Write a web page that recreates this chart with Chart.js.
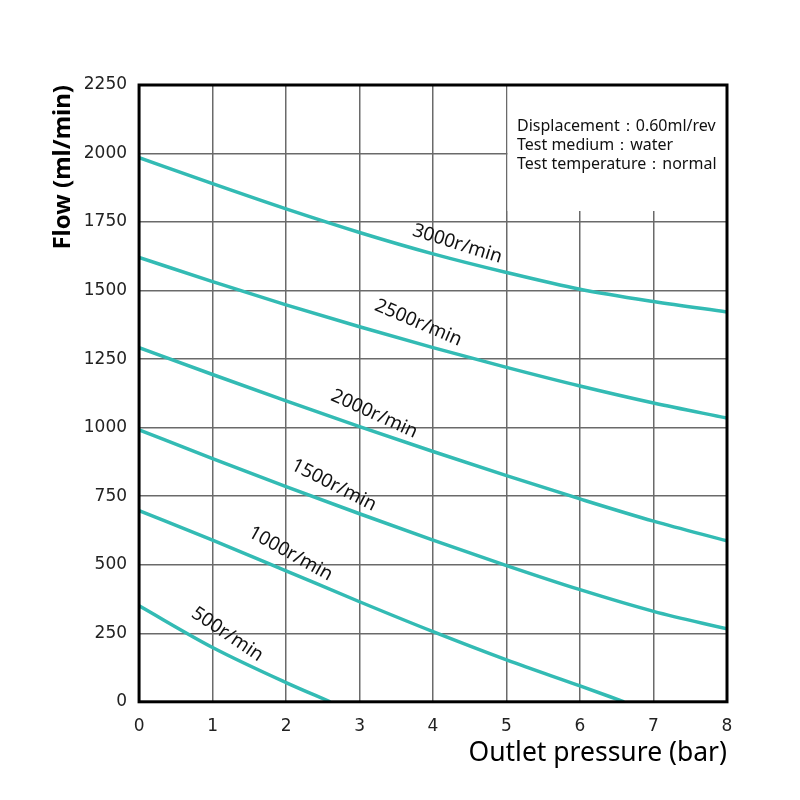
<!DOCTYPE html>
<html>
<head>
<meta charset="utf-8">
<script src="https://cdn.jsdelivr.net/npm/chart.js@4"></script>
<style>
  body { margin: 0; background: #fff; }
  #wrap { width: 800px; height: 800px; }
</style>
</head>
<body>
<div id="wrap"><canvas id="flowChart"></canvas></div>
<script>
// pressure (bar) / flow (ml/min) per speed
const pressure = [0, 1, 2, 3, 4, 5, 6, 7, 8];
const flow3000 = [1985, 1890, 1798, 1712, 1634, 1566, 1505, 1460, 1422];
const flow2500 = [1621, 1533, 1448, 1368, 1292, 1220, 1152, 1090, 1035];
const flow2000 = [1292, 1194, 1098, 1004, 913, 825, 740, 659, 587];
const flow1500 = [992, 887, 785, 686, 590, 497, 409, 330, 266];
const pressure1000 = [0, 1, 2, 3, 4, 5, 6, 6.6];
const flow1000 = [697, 590, 478, 365, 256, 153, 58, 0];
const pressure500 = [0, 1, 2, 2.6];
const flow500 = [350, 198, 70, 0];

const speedLabels = ["3000r/min", "2500r/min", "2000r/min", "1500r/min", "1000r/min", "500r/min"];
const infoLines = ["Displacement：0.60ml/rev", "Test medium：water", "Test temperature：normal"];

const lineColor = "#33bbb4";

function series(xs, ys) {
  return xs.map((x, i) => ({ x: x, y: ys[i] }));
}

const datasets = [
  series(pressure, flow3000),
  series(pressure, flow2500),
  series(pressure, flow2000),
  series(pressure, flow1500),
  series(pressure1000, flow1000),
  series(pressure500, flow500)
].map((d, i) => ({
  label: speedLabels[i],
  data: d,
  borderColor: lineColor,
  borderWidth: 3.5,
  pointRadius: 0,
  fill: false,
  cubicInterpolationMode: "monotone"
}));

// where the speed labels sit (data coords) and their tilt
const labelSpots = [
  { x: 4.33, y: 1670, a: 17.5 },
  { x: 3.80, y: 1382, a: 23 },
  { x: 3.20, y: 1050, a: 24.5 },
  { x: 2.65, y: 790, a: 27 },
  { x: 2.06, y: 540, a: 29 },
  { x: 1.20, y: 246, a: 34 }
];

const extras = {
  id: "extras",
  beforeDatasetsDraw(chart) {
    const { ctx, chartArea: a } = chart;
    // white info box over the grid
    ctx.save();
    ctx.fillStyle = "#fff";
    ctx.fillRect(a.left + (a.right - a.left) * 5 / 8 + 1, a.top, a.right - a.left, 126);
    ctx.fillStyle = "#111";
    ctx.font = "16px 'Noto Sans'";
    ctx.textBaseline = "middle";
    infoLines.forEach((t, i) => ctx.fillText(t, 517, 126 + i * 19));
    ctx.restore();
  },
  afterDatasetsDraw(chart) {
    const { ctx, chartArea: a, scales } = chart;
    ctx.save();
    ctx.fillStyle = "#111";
    ctx.font = "19px 'Noto Sans'";
    ctx.textAlign = "center";
    ctx.textBaseline = "middle";
    labelSpots.forEach((s, i) => {
      const px = scales.x.getPixelForValue(s.x);
      const py = scales.y.getPixelForValue(s.y);
      ctx.save();
      ctx.translate(px, py);
      ctx.rotate(s.a * Math.PI / 180);
      ctx.fillText(speedLabels[i], 0, 0);
      ctx.restore();
    });
    ctx.strokeStyle = "#000";
    ctx.lineWidth = 3;
    ctx.strokeRect(a.left, a.top, a.right - a.left, a.bottom - a.top);
    ctx.restore();
  }
};

const tickFont = { size: 17, family: "'DejaVu Sans'" };

new Chart(document.getElementById("flowChart"), {
  type: "line",
  data: { datasets },
  plugins: [extras],
  options: {
    responsive: true,
    maintainAspectRatio: false,
    animation: false,
    layout: { padding: { left: 49, right: 73, top: 85, bottom: 31 } },
    plugins: { legend: { display: false }, tooltip: { enabled: false } },
    scales: {
      x: {
        type: "linear",
        min: 0,
        max: 8,
        ticks: { stepSize: 1, color: "#222", font: tickFont, padding: 15 },
        grid: { color: "#6a6a6a", lineWidth: 1.5, drawTicks: false },
        border: { display: false },
        title: {
          display: true,
          text: "Outlet pressure (bar)",
          align: "end",
          color: "#000",
          font: { size: 26.5, family: "'Noto Sans'" },
          padding: { top: -15, bottom: 0 }
        }
      },
      y: {
        min: 0,
        max: 2250,
        ticks: {
          stepSize: 250,
          color: "#222",
          font: tickFont,
          padding: 12,
          callback: v => String(v)
        },
        grid: { color: "#6a6a6a", lineWidth: 1.5, drawTicks: false },
        border: { display: false },
        title: {
          display: true,
          text: "Flow (ml/min)",
          align: "end",
          color: "#000",
          font: { size: 24, weight: "bold", family: "'Noto Sans'" },
          padding: { top: 0, bottom: -6 }
        }
      }
    }
  }
});
</script>
</body>
</html>
